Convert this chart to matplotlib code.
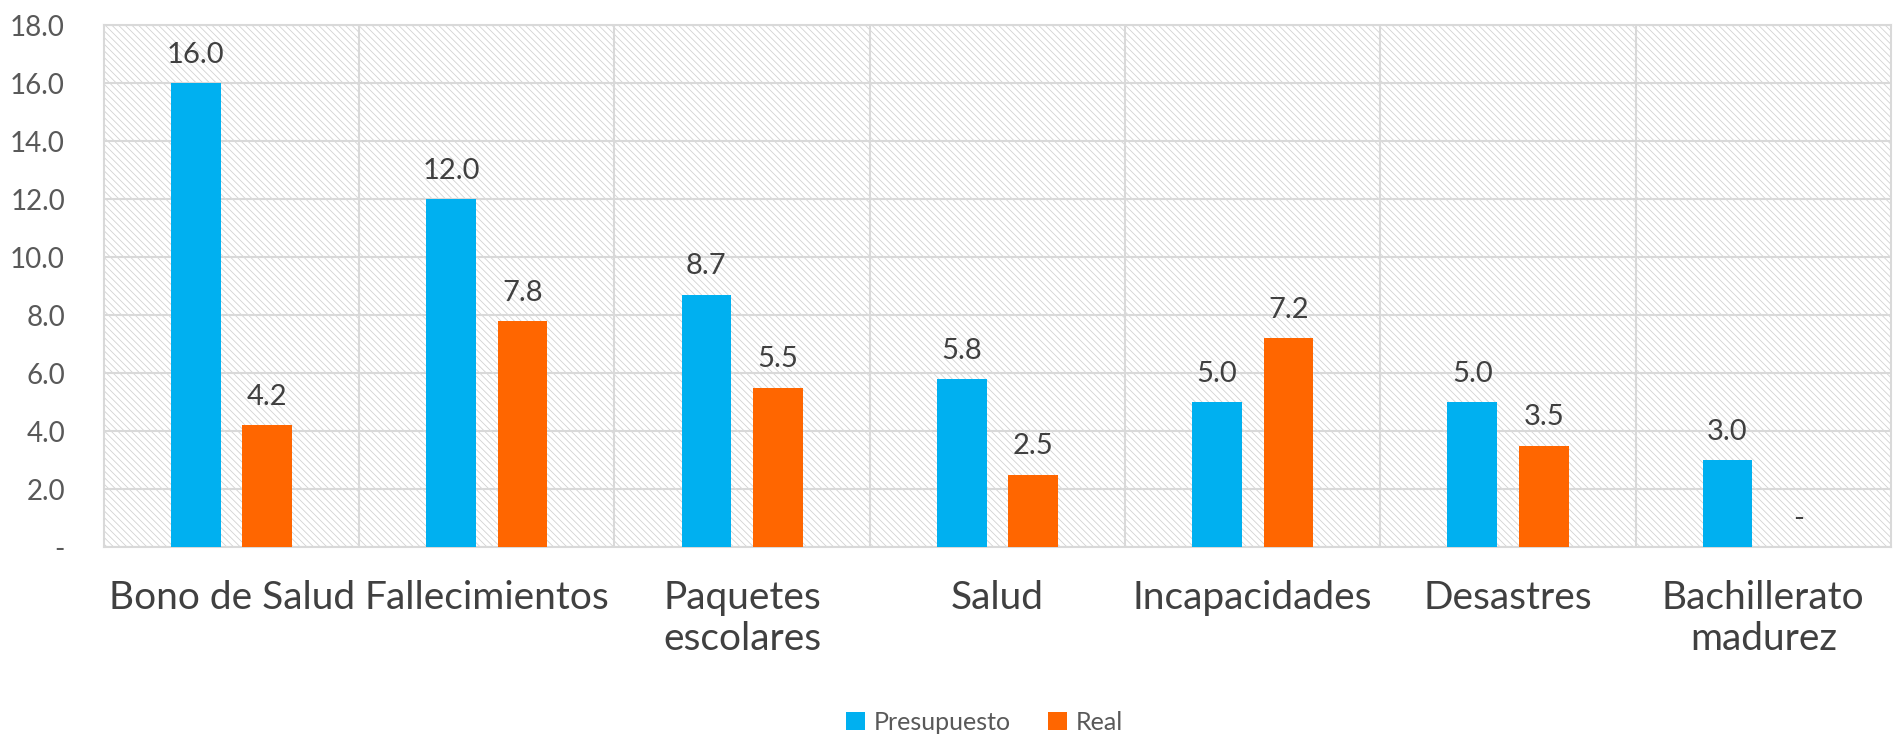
import matplotlib.pyplot as plt
import numpy as np
from matplotlib.patches import Rectangle

plt.rcParams['font.family'] = ['Lato', 'DejaVu Sans']
plt.rcParams['hatch.color'] = '#d2d2d2'
plt.rcParams['hatch.linewidth'] = 0.6

categorias = ["Bono de Salud", "Fallecimientos", "Paquetes\nescolares", "Salud",
              "Incapacidades", "Desastres", "Bachillerato\nmadurez"]
presupuesto = [16.0, 12.0, 8.7, 5.8, 5.0, 5.0, 3.0]
real = [4.2, 7.8, 5.5, 2.5, 7.2, 3.5, 0.0]
y_ticks = [0, 2, 4, 6, 8, 10, 12, 14, 16, 18]

azul = '#00B0F0'
naranja = '#FF6600'
gris = '#d9d9d9'

fig = plt.figure(figsize=(18.93, 7.38), dpi=100)
ax = fig.add_axes([0.0549, 0.2588, 0.944, 0.7073])

x = np.arange(len(categorias))
ancho = 0.195
desp = 0.14

# fondo rayado del área de trazado
ax.add_patch(Rectangle((0, 0), 1, 1, transform=ax.transAxes, facecolor='white',
                       edgecolor='#d2d2d2', hatch='\\\\\\\\\\', linewidth=0, zorder=0))

b1 = ax.bar(x - desp, presupuesto, ancho, color=azul, label='Presupuesto', zorder=3)
b2 = ax.bar(x + desp, real, ancho, color=naranja, label='Real', zorder=3)

def etiqueta(v):
    return '-' if v == 0 else f'{v:.1f}'

for barras, vals in [(b1, presupuesto), (b2, real)]:
    for rect, v in zip(barras, vals):
        ax.annotate(etiqueta(v), (rect.get_x() + rect.get_width() / 2, v),
                    xytext=(0, 11), textcoords='offset points', ha='center', va='bottom',
                    fontsize=21, color='#404040', zorder=4)

ax.set_xlim(-0.5, len(categorias) - 0.5)
ax.set_ylim(0, 18)
ax.set_yticks(y_ticks)
ax.set_yticklabels(['-' if t == 0 else f'{t:.1f}' for t in y_ticks])
ax.set_xticks(x)
ax.set_xticklabels(categorias, fontsize=28, color='#404040', linespacing=1.15)
ax.tick_params(axis='y', labelsize=20, colors='#595959', length=0, pad=28)
ax.tick_params(axis='x', length=0, pad=24)

# rejilla horizontal y separadores de categoría
ax.yaxis.grid(True, color=gris, linewidth=1.5, zorder=1)
ax.set_axisbelow(True)
for b in np.arange(0.5, len(categorias) - 0.5):
    ax.axvline(b, color=gris, linewidth=1.5, zorder=1)
for s in ax.spines.values():
    s.set_color(gris)
    s.set_linewidth(1.5)

fig.legend(handles=[b1, b2], loc='lower center', bbox_to_anchor=(0.52, -0.025), ncol=2,
           frameon=False, fontsize=18, handlelength=0.75, handleheight=0.75,
           handletextpad=0.35, columnspacing=1.5, labelcolor='#595959')

fig.savefig('out.png', dpi=100)
